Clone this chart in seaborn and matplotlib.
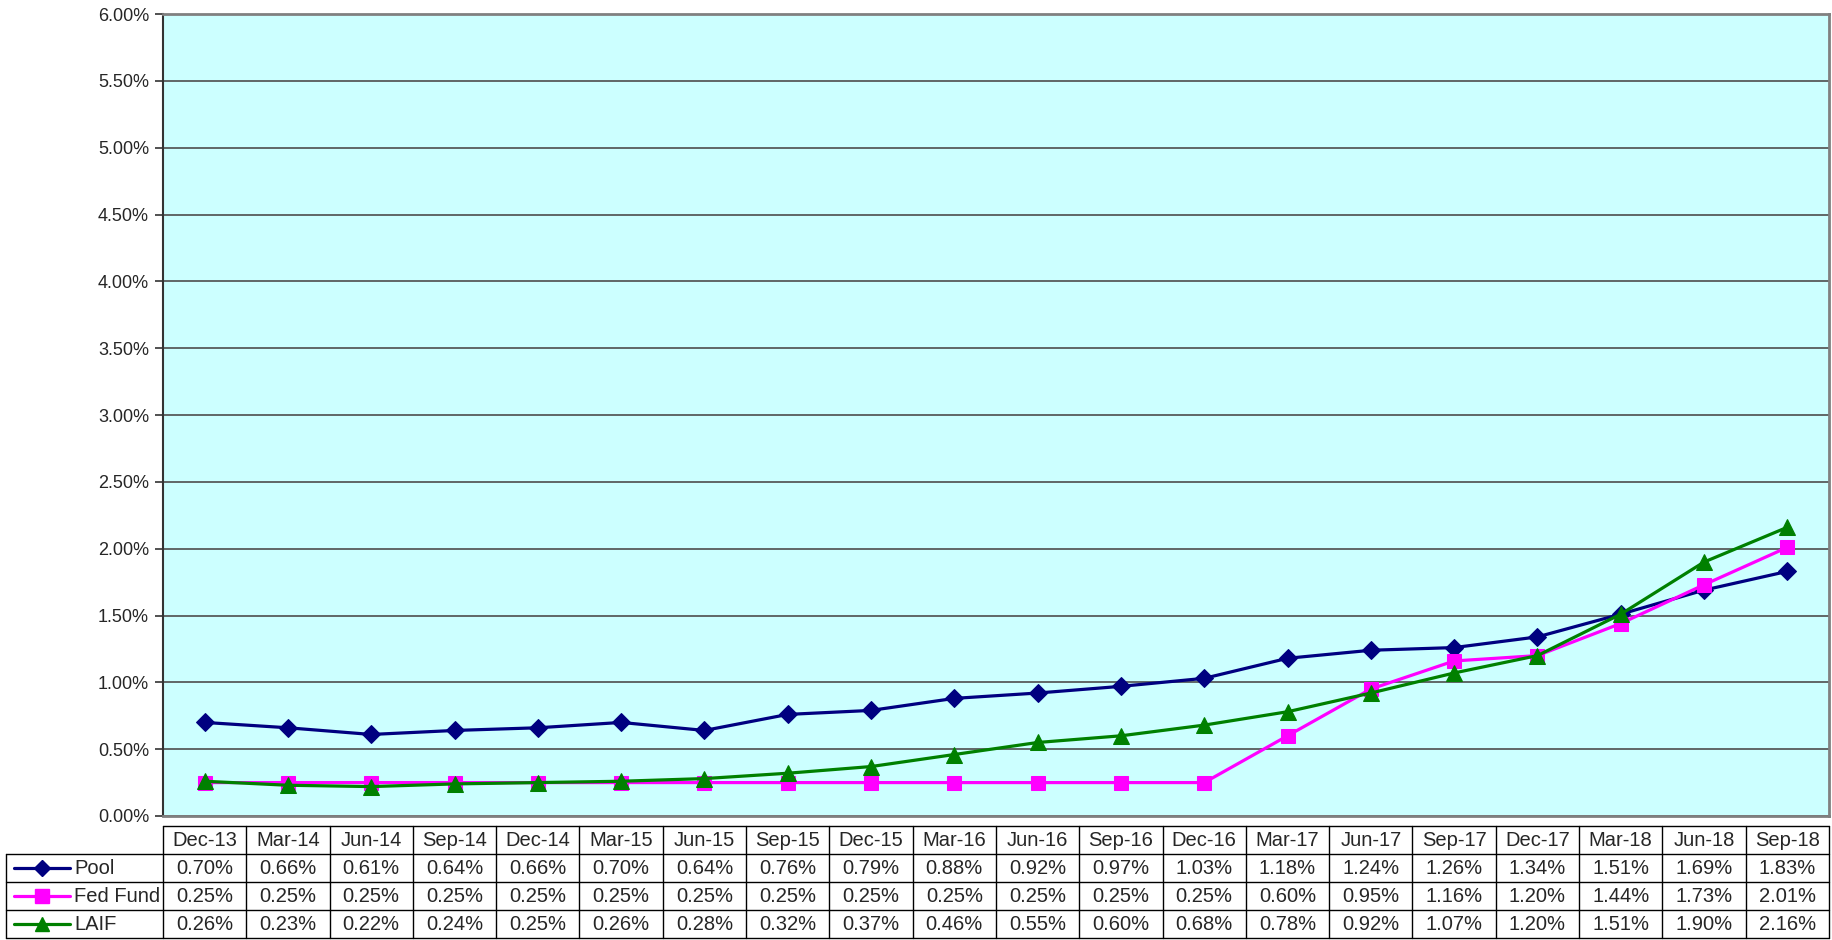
import numpy as np
import pandas as pd
import matplotlib
matplotlib.use("Agg")
import matplotlib.pyplot as plt
import seaborn as sns

categories = ["Dec-13", "Mar-14", "Jun-14", "Sep-14", "Dec-14", "Mar-15", "Jun-15", "Sep-15",
              "Dec-15", "Mar-16", "Jun-16", "Sep-16", "Dec-16", "Mar-17", "Jun-17", "Sep-17",
              "Dec-17", "Mar-18", "Jun-18", "Sep-18"]
pool = [0.70, 0.66, 0.61, 0.64, 0.66, 0.70, 0.64, 0.76, 0.79, 0.88, 0.92, 0.97, 1.03, 1.18,
        1.24, 1.26, 1.34, 1.51, 1.69, 1.83]
fed_fund = [0.25, 0.25, 0.25, 0.25, 0.25, 0.25, 0.25, 0.25, 0.25, 0.25, 0.25, 0.25, 0.25, 0.60,
            0.95, 1.16, 1.20, 1.44, 1.73, 2.01]
laif = [0.26, 0.23, 0.22, 0.24, 0.25, 0.26, 0.28, 0.32, 0.37, 0.46, 0.55, 0.60, 0.68, 0.78,
        0.92, 1.07, 1.20, 1.51, 1.90, 2.16]
series_names = ["Pool", "Fed Fund", "LAIF"]
series_values = [pool, fed_fund, laif]
y_ticks = [0.0, 0.5, 1.0, 1.5, 2.0, 2.5, 3.0, 3.5, 4.0, 4.5, 5.0, 5.5, 6.0]

colors = {"Pool": "#000080", "Fed Fund": "#FF00FF", "LAIF": "#008000"}
markers = {"Pool": "D", "Fed Fund": "s", "LAIF": "^"}
msizes = {"Pool": 9, "Fed Fund": 10.5, "LAIF": 11}

sns.set_style("white")
plt.rcParams["font.family"] = ["Liberation Sans", "DejaVu Sans"]

W, H = 1833, 940
fig = plt.figure(figsize=(W / 100, H / 100), dpi=100)

L, R, T, B = 163, 1829, 14, 816
ax = fig.add_axes([L / W, 1 - B / H, (R - L) / W, (B - T) / H])
ax.set_facecolor("#CCFFFF")

x = np.arange(len(categories))
df = pd.DataFrame({
    "x": np.tile(x, 3),
    "value": np.concatenate(series_values),
    "series": np.repeat(series_names, len(categories)),
})
for name in series_names:
    sub = df[df["series"] == name]
    sns.lineplot(data=sub, x="x", y="value", ax=ax, color=colors[name], marker=markers[name],
                 markersize=msizes[name], markeredgecolor=colors[name], linewidth=2.3,
                 legend=False, zorder=3)

ax.set_xlim(-0.5, len(categories) - 0.5)
ax.set_ylim(0, 6)
ax.set_yticks(y_ticks)
ax.set_yticklabels([f"{v:.2f}%" for v in y_ticks], fontsize=13)
ax.set_xticks([])
ax.set_xlabel("")
ax.set_ylabel("")
ax.grid(axis="y", color="#4d4d4d", linewidth=1.2, zorder=1)
ax.set_axisbelow(True)
for s in ["top", "right", "bottom"]:
    ax.spines[s].set_color("#808080")
    ax.spines[s].set_linewidth(2)
ax.spines["left"].set_color("#333333")
ax.spines["left"].set_linewidth(1.5)
ax.tick_params(axis="y", direction="out", length=6, width=1.2, color="#333333", left=True, pad=4)

# Data table
tL, tT = 6, 826
row_edges = [0, 1, 2, 3, 4]
nrows = 4
tB = 938
colw = (R - L) / len(categories)
xl = -0.5 - (L - tL) / colw
tax = fig.add_axes([tL / W, 1 - tB / H, (R - tL) / W, (tB - tT) / H])
tax.set_xlim(xl, len(categories) - 0.5)
tax.set_ylim(nrows, 0)
tax.axis("off")
lw = 1.0
fs = 14.5
tax.plot([-0.5, len(categories) - 0.5], [0, 0], color="black", lw=lw, clip_on=False)
for i in range(len(categories) + 1):
    tax.plot([i - 0.5, i - 0.5], [0, nrows], color="black", lw=lw, clip_on=False)
tax.plot([xl, xl], [1, nrows], color="black", lw=lw, clip_on=False)
for r in range(1, nrows + 1):
    tax.plot([xl, len(categories) - 0.5], [r, r], color="black", lw=lw, clip_on=False)
for i, c in enumerate(categories):
    tax.text(i, 0.5, c, ha="center", va="center", fontsize=fs)
for r, (name, vals) in enumerate(zip(series_names, series_values), start=1):
    for i, v in enumerate(vals):
        tax.text(i, r + 0.5, f"{v:.2f}%", ha="center", va="center", fontsize=fs)
    lx0 = xl + 8 / colw
    lx1 = xl + 64 / colw
    tax.plot([lx0, lx1], [r + 0.5, r + 0.5], color=colors[name], lw=2.3, clip_on=False)
    tax.plot([(lx0 + lx1) / 2], [r + 0.5], marker=markers[name], color=colors[name],
             markersize=msizes[name] * 0.9, clip_on=False)
    tax.text(xl + 68 / colw, r + 0.5, name, ha="left", va="center", fontsize=fs)

fig.savefig("out.png", dpi=100, facecolor="white")
